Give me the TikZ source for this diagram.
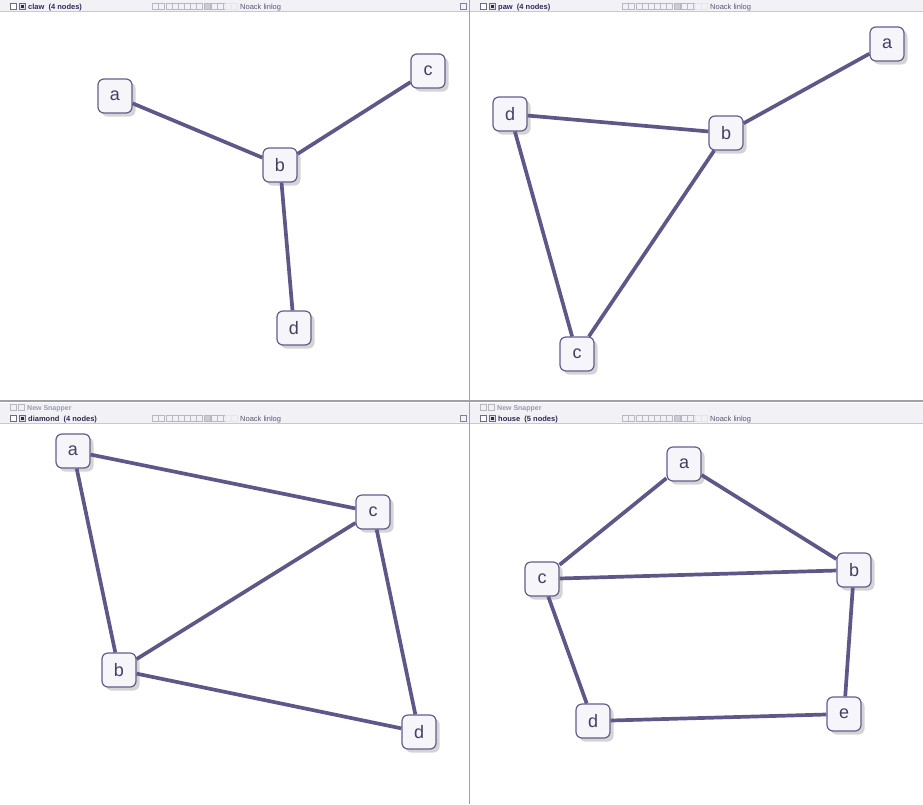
\documentclass[tikz,border=0pt]{standalone}
\usepackage{fontspec}
\setmainfont{Liberation Sans}
\usetikzlibrary{shadows}
\definecolor{edgec}{HTML}{5E5888}
\definecolor{nodeborder}{HTML}{635D8C}
\definecolor{nodefill}{HTML}{F5F5FA}
\definecolor{labelc}{HTML}{45405E}
\definecolor{barbg}{HTML}{F2F2F6}
\definecolor{barline}{HTML}{C8C8D0}
\definecolor{titlec}{HTML}{2E2A55}
\definecolor{greyt}{HTML}{9A9AA8}
\tikzset{
  x=1pt, y=-1pt,
  vtx/.style={draw=nodeborder, line width=1.2pt, fill=nodefill, rounded corners=6pt,
    minimum size=34pt, inner sep=0pt, font=\fontsize{18}{18}\selectfont, text=labelc,
    drop shadow={shadow xshift=3.5pt, shadow yshift=-3.5pt, fill=black!30, opacity=0.55}},
  edge/.style={draw=edgec, line width=3.7pt},
  titletxt/.style={font=\fontsize{7.5}{8}\selectfont\bfseries, text=titlec, anchor=base west, inner sep=0pt},
  algotxt/.style={font=\fontsize{7.5}{8}\selectfont, text=titlec!80, anchor=base west, inner sep=0pt},
  snaptxt/.style={font=\fontsize{7}{8}\selectfont\bfseries, text=greyt, anchor=base west, inner sep=0pt},
  tbox/.style={draw=titlec!70, line width=0.5pt, fill=white, minimum size=6.5pt, inner sep=0pt},
  tlbox/.style={draw=greyt!70, line width=0.4pt, fill=barbg, minimum width=6pt, minimum height=6pt, inner sep=0pt},
}
\newcommand{\titlebar}[4]{% x0, y0 (top), width, title
  \fill[barbg] (#1,#2) rectangle ++(#3,11);
  \draw[barline, line width=0.8pt] (#1,#2+11.5) -- ++(#3,0);
  \node[tbox] at (#1+13,#2+6) {};
  \node[tbox, fill=titlec!15] at (#1+22,#2+6) {};
  \fill[titlec] (#1+20.5,#2+4.5) rectangle ++(3,3);
  \node[titletxt] at (#1+28,#2+9) {#4};
  \foreach \i in {0,1} {\node[tlbox] at (#1+155+\i*6,#2+6) {};}
  \foreach \i in {0,...,5} {\node[tlbox] at (#1+169+\i*6,#2+6) {};}
  \node[tlbox, fill=greyt!50] at (#1+207,#2+6) {};
  \foreach \i in {0,1,2} {\node[tlbox] at (#1+214+\i*6,#2+6) {};}
  \foreach \i in {0,1} {\node[tlbox, draw=greyt!25] at (#1+228+\i*6,#2+6) {};}
  \node[algotxt] at (#1+240,#2+9) {Noack linlog};
}
\begin{document}
\begin{tikzpicture}
\useasboundingbox (0,0) rectangle (923,804);
\fill[white] (0,0) rectangle (923,804);
% title bars
\titlebar{0}{0}{469}{claw\ \ (4 nodes)}
\titlebar{470}{0}{453}{paw\ \ (4 nodes)}
\titlebar{0}{412}{469}{diamond\ \ (4 nodes)}
\titlebar{470}{412}{453}{house\ \ (5 nodes)}
\node[tlbox, draw=titlec!60, minimum size=6.5pt] (x1) at (463,6) {};
\node[tlbox, draw=titlec!60, minimum size=6.5pt] (x2) at (463,418) {};
% new snapper bars
\fill[barbg] (0,403) rectangle (923,412);
\foreach \xx in {0,470} {
  \node[tlbox, minimum size=6pt] at (\xx+13,407.5) {};
  \node[tlbox, minimum size=6pt] at (\xx+21,407.5) {};
  \node[snaptxt] at (\xx+27,410) {New Snapper};
}
% dividers
\draw[barline!80!black, line width=1.6pt] (0,401) -- (923,401);
\draw[barline!80!black, line width=1pt] (469,0) -- (469,804);

% ---- claw
\node[vtx] (ca) at (115,96) {a};
\node[vtx] (cb) at (280,165) {b};
\node[vtx] (cc) at (428,71) {c};
\node[vtx] (cd) at (294,328) {d};
\draw[edge] (ca) -- (cb);
\draw[edge] (cb) -- (cc);
\draw[edge] (cb) -- (cd);

% ---- paw
\node[vtx] (pa) at (887,44) {a};
\node[vtx] (pb) at (726,133) {b};
\node[vtx] (pd) at (510,114) {d};
\node[vtx] (pc) at (577,354) {c};
\draw[edge] (pa) -- (pb);
\draw[edge] (pb) -- (pd);
\draw[edge] (pd) -- (pc);
\draw[edge] (pc) -- (pb);

% ---- diamond
\node[vtx] (da) at (73,451) {a};
\node[vtx] (dc) at (373,512) {c};
\node[vtx] (db) at (119,670) {b};
\node[vtx] (dd) at (419,732) {d};
\draw[edge] (da) -- (dc);
\draw[edge] (da) -- (db);
\draw[edge] (db) -- (dc);
\draw[edge] (dc) -- (dd);
\draw[edge] (db) -- (dd);

% ---- house
\node[vtx] (ha) at (684,464) {a};
\node[vtx] (hb) at (854,570) {b};
\node[vtx] (hc) at (542,579) {c};
\node[vtx] (hd) at (593,721) {d};
\node[vtx] (he) at (844,714) {e};
\draw[edge] (ha) -- (hc);
\draw[edge] (ha) -- (hb);
\draw[edge] (hc) -- (hb);
\draw[edge] (hc) -- (hd);
\draw[edge] (hd) -- (he);
\draw[edge] (hb) -- (he);
\end{tikzpicture}
\end{document}
